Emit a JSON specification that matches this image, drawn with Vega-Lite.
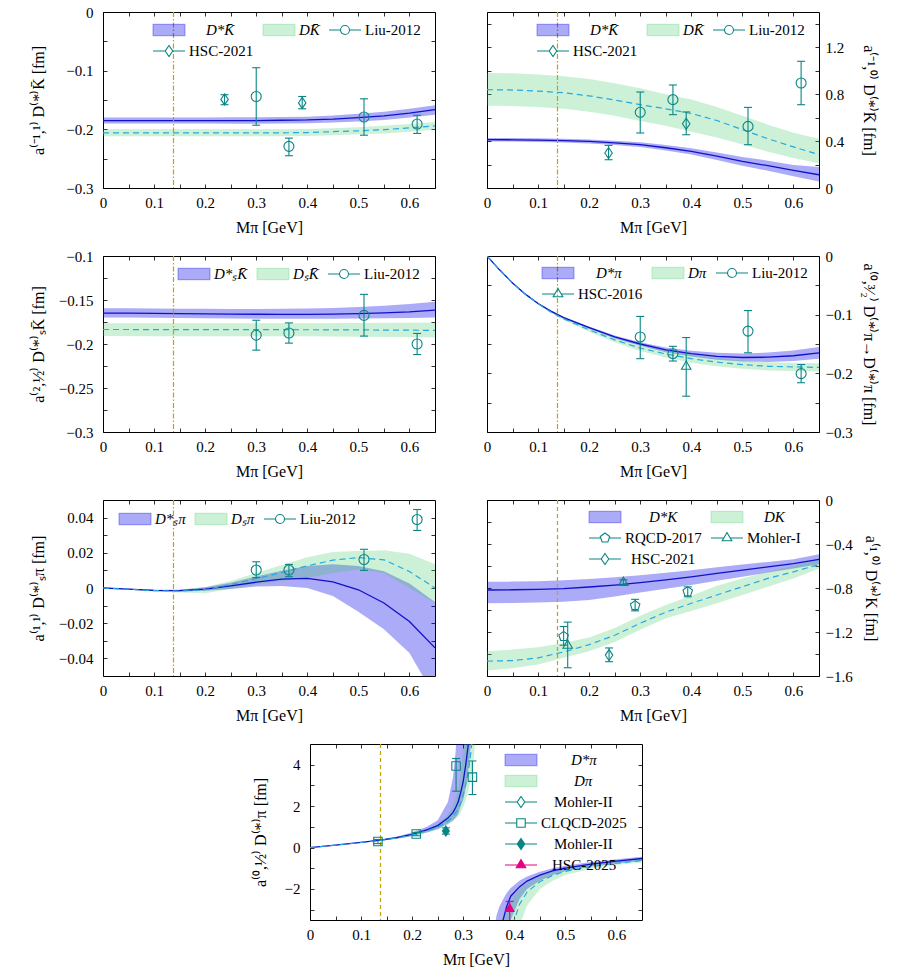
{
  "$schema": "https://vega.github.io/schema/vega-lite/v6.json",
  "usermeta": {"embedOptions": {"actions": false}},
  "padding": {"left": 29, "top": 4, "right": 5, "bottom": 5},
  "bounds": "flush",
  "columns": 2,
  "spacing": {"row": 68, "column": 52},
  "resolve": {"scale": {"color": "independent", "shape": "independent"}, "legend": {"color": "independent"}},
  "config": {
    "font": "Liberation Serif",
    "view": {"stroke": "#000", "strokeWidth": 1},
    "axis": {
      "domain": false, "grid": false, "zindex": 1,
      "tickColor": "#000", "tickSize": -4, "tickWidth": 0.8,
      "labelFont": "Liberation Serif", "labelFontSize": 15, "labelColor": "#000",
      "labelFlush": false, "labelOverlap": false, "labelBound": false,
      "titleFont": "Liberation Serif", "titleFontSize": 16, "titleFontWeight": "normal", "titleColor": "#000"
    },
    "legend": {
      "labelFont": "Liberation Serif", "labelFontSize": 15, "labelColor": "#000",
      "symbolSize": 256, "symbolStrokeWidth": 1.1, "labelOffset": 19,
      "rowPadding": 4, "columnPadding": 6, "padding": 0, "labelLimit": 300
    }
  },
  "datasets": {
    "p1": [
      {"k":"s","s":"D*K\u0304","x":0,"c":-0.185,"lo":-0.19,"hi":-0.18},
      {"k":"s","s":"D*K\u0304","x":0.05,"c":-0.185,"lo":-0.19,"hi":-0.18},
      {"k":"s","s":"D*K\u0304","x":0.1,"c":-0.185,"lo":-0.19,"hi":-0.18},
      {"k":"s","s":"D*K\u0304","x":0.15,"c":-0.185,"lo":-0.19,"hi":-0.18},
      {"k":"s","s":"D*K\u0304","x":0.2,"c":-0.185,"lo":-0.19,"hi":-0.18},
      {"k":"s","s":"D*K\u0304","x":0.25,"c":-0.185,"lo":-0.1905,"hi":-0.1795},
      {"k":"s","s":"D*K\u0304","x":0.3,"c":-0.185,"lo":-0.1905,"hi":-0.1795},
      {"k":"s","s":"D*K\u0304","x":0.35,"c":-0.1845,"lo":-0.19,"hi":-0.179},
      {"k":"s","s":"D*K\u0304","x":0.4,"c":-0.184,"lo":-0.1895,"hi":-0.1785},
      {"k":"s","s":"D*K\u0304","x":0.45,"c":-0.1825,"lo":-0.1885,"hi":-0.1765},
      {"k":"s","s":"D*K\u0304","x":0.5,"c":-0.18,"lo":-0.1865,"hi":-0.1735},
      {"k":"s","s":"D*K\u0304","x":0.55,"c":-0.177,"lo":-0.184,"hi":-0.17},
      {"k":"s","s":"D*K\u0304","x":0.6,"c":-0.1725,"lo":-0.18,"hi":-0.165},
      {"k":"s","s":"D*K\u0304","x":0.65,"c":-0.1665,"lo":-0.175,"hi":-0.159},
      {"k":"n","s":"DK\u0304","x":0,"c":-0.206,"lo":-0.212,"hi":-0.2},
      {"k":"n","s":"DK\u0304","x":0.05,"c":-0.206,"lo":-0.212,"hi":-0.2},
      {"k":"n","s":"DK\u0304","x":0.1,"c":-0.206,"lo":-0.212,"hi":-0.2},
      {"k":"n","s":"DK\u0304","x":0.15,"c":-0.206,"lo":-0.212,"hi":-0.2},
      {"k":"n","s":"DK\u0304","x":0.2,"c":-0.206,"lo":-0.212,"hi":-0.2},
      {"k":"n","s":"DK\u0304","x":0.25,"c":-0.206,"lo":-0.212,"hi":-0.2},
      {"k":"n","s":"DK\u0304","x":0.3,"c":-0.206,"lo":-0.212,"hi":-0.2},
      {"k":"n","s":"DK\u0304","x":0.35,"c":-0.206,"lo":-0.212,"hi":-0.2},
      {"k":"n","s":"DK\u0304","x":0.4,"c":-0.2055,"lo":-0.2115,"hi":-0.1995},
      {"k":"n","s":"DK\u0304","x":0.45,"c":-0.204,"lo":-0.21,"hi":-0.198},
      {"k":"n","s":"DK\u0304","x":0.5,"c":-0.2025,"lo":-0.2085,"hi":-0.1965},
      {"k":"n","s":"DK\u0304","x":0.55,"c":-0.2005,"lo":-0.207,"hi":-0.194},
      {"k":"n","s":"DK\u0304","x":0.6,"c":-0.1975,"lo":-0.204,"hi":-0.191},
      {"k":"n","s":"DK\u0304","x":0.65,"c":-0.194,"lo":-0.2005,"hi":-0.1875},
      {"s":"Liu-2012","x":0.3,"y":-0.144,"lo":-0.193,"hi":-0.095},
      {"s":"Liu-2012","x":0.364,"y":-0.229,"lo":-0.245,"hi":-0.215},
      {"s":"Liu-2012","x":0.511,"y":-0.179,"lo":-0.21,"hi":-0.148},
      {"s":"Liu-2012","x":0.615,"y":-0.191,"lo":-0.207,"hi":-0.176},
      {"s":"HSC-2021","x":0.238,"y":-0.149,"lo":-0.158,"hi":-0.141},
      {"s":"HSC-2021","x":0.39,"y":-0.155,"lo":-0.165,"hi":-0.144}
    ],
    "p2": [
      {"k":"s","s":"D*K\u0304","x":0,"c":0.412,"lo":0.397,"hi":0.427},
      {"k":"s","s":"D*K\u0304","x":0.05,"c":0.411,"lo":0.396,"hi":0.426},
      {"k":"s","s":"D*K\u0304","x":0.1,"c":0.408,"lo":0.393,"hi":0.423},
      {"k":"s","s":"D*K\u0304","x":0.15,"c":0.403,"lo":0.387,"hi":0.419},
      {"k":"s","s":"D*K\u0304","x":0.2,"c":0.397,"lo":0.38,"hi":0.414},
      {"k":"s","s":"D*K\u0304","x":0.25,"c":0.385,"lo":0.367,"hi":0.403},
      {"k":"s","s":"D*K\u0304","x":0.3,"c":0.369,"lo":0.349,"hi":0.389},
      {"k":"s","s":"D*K\u0304","x":0.35,"c":0.343,"lo":0.32,"hi":0.366},
      {"k":"s","s":"D*K\u0304","x":0.4,"c":0.312,"lo":0.285,"hi":0.339},
      {"k":"s","s":"D*K\u0304","x":0.45,"c":0.271,"lo":0.239,"hi":0.303},
      {"k":"s","s":"D*K\u0304","x":0.5,"c":0.227,"lo":0.19,"hi":0.264},
      {"k":"s","s":"D*K\u0304","x":0.55,"c":0.19,"lo":0.147,"hi":0.233},
      {"k":"s","s":"D*K\u0304","x":0.6,"c":0.151,"lo":0.101,"hi":0.195},
      {"k":"s","s":"D*K\u0304","x":0.65,"c":0.113,"lo":0.056,"hi":0.178},
      {"k":"n","s":"DK\u0304","x":0,"c":0.838,"lo":0.7,"hi":0.98},
      {"k":"n","s":"DK\u0304","x":0.05,"c":0.835,"lo":0.698,"hi":0.977},
      {"k":"n","s":"DK\u0304","x":0.1,"c":0.826,"lo":0.69,"hi":0.968},
      {"k":"n","s":"DK\u0304","x":0.15,"c":0.812,"lo":0.675,"hi":0.953},
      {"k":"n","s":"DK\u0304","x":0.2,"c":0.785,"lo":0.65,"hi":0.928},
      {"k":"n","s":"DK\u0304","x":0.25,"c":0.75,"lo":0.615,"hi":0.893},
      {"k":"n","s":"DK\u0304","x":0.3,"c":0.71,"lo":0.57,"hi":0.85},
      {"k":"n","s":"DK\u0304","x":0.35,"c":0.675,"lo":0.53,"hi":0.8},
      {"k":"n","s":"DK\u0304","x":0.4,"c":0.635,"lo":0.48,"hi":0.755},
      {"k":"n","s":"DK\u0304","x":0.45,"c":0.575,"lo":0.43,"hi":0.69},
      {"k":"n","s":"DK\u0304","x":0.5,"c":0.497,"lo":0.37,"hi":0.615},
      {"k":"n","s":"DK\u0304","x":0.55,"c":0.42,"lo":0.31,"hi":0.54},
      {"k":"n","s":"DK\u0304","x":0.6,"c":0.35,"lo":0.255,"hi":0.47},
      {"k":"n","s":"DK\u0304","x":0.65,"c":0.284,"lo":0.21,"hi":0.42},
      {"s":"Liu-2012","x":0.3,"y":0.645,"lo":0.469,"hi":0.818},
      {"s":"Liu-2012","x":0.364,"y":0.753,"lo":0.625,"hi":0.878},
      {"s":"Liu-2012","x":0.511,"y":0.525,"lo":0.369,"hi":0.687},
      {"s":"Liu-2012","x":0.615,"y":0.895,"lo":0.71,"hi":1.08},
      {"s":"HSC-2021","x":0.238,"y":0.298,"lo":0.241,"hi":0.363},
      {"s":"HSC-2021","x":0.39,"y":0.548,"lo":0.454,"hi":0.648}
    ],
    "p3": [
      {"k":"s","s":"D*\u209bK\u0304","x":0,"c":-0.165,"lo":-0.17,"hi":-0.1595},
      {"k":"s","s":"D*\u209bK\u0304","x":0.05,"c":-0.165,"lo":-0.17,"hi":-0.1595},
      {"k":"s","s":"D*\u209bK\u0304","x":0.1,"c":-0.1652,"lo":-0.1703,"hi":-0.1597},
      {"k":"s","s":"D*\u209bK\u0304","x":0.15,"c":-0.1655,"lo":-0.1705,"hi":-0.16},
      {"k":"s","s":"D*\u209bK\u0304","x":0.2,"c":-0.1658,"lo":-0.1708,"hi":-0.16},
      {"k":"s","s":"D*\u209bK\u0304","x":0.25,"c":-0.166,"lo":-0.171,"hi":-0.1602},
      {"k":"s","s":"D*\u209bK\u0304","x":0.3,"c":-0.1662,"lo":-0.1712,"hi":-0.1602},
      {"k":"s","s":"D*\u209bK\u0304","x":0.35,"c":-0.1663,"lo":-0.1713,"hi":-0.16},
      {"k":"s","s":"D*\u209bK\u0304","x":0.4,"c":-0.1663,"lo":-0.1713,"hi":-0.1597},
      {"k":"s","s":"D*\u209bK\u0304","x":0.45,"c":-0.166,"lo":-0.1712,"hi":-0.159},
      {"k":"s","s":"D*\u209bK\u0304","x":0.5,"c":-0.1655,"lo":-0.171,"hi":-0.158},
      {"k":"s","s":"D*\u209bK\u0304","x":0.55,"c":-0.1647,"lo":-0.1708,"hi":-0.1565},
      {"k":"s","s":"D*\u209bK\u0304","x":0.6,"c":-0.1635,"lo":-0.1705,"hi":-0.1545},
      {"k":"s","s":"D*\u209bK\u0304","x":0.65,"c":-0.1615,"lo":-0.17,"hi":-0.152},
      {"k":"n","s":"D\u209bK\u0304","x":0,"c":-0.1835,"lo":-0.191,"hi":-0.1765},
      {"k":"n","s":"D\u209bK\u0304","x":0.1,"c":-0.1836,"lo":-0.1911,"hi":-0.1765},
      {"k":"n","s":"D\u209bK\u0304","x":0.2,"c":-0.1837,"lo":-0.1912,"hi":-0.1765},
      {"k":"n","s":"D\u209bK\u0304","x":0.3,"c":-0.1837,"lo":-0.1912,"hi":-0.1765},
      {"k":"n","s":"D\u209bK\u0304","x":0.4,"c":-0.1838,"lo":-0.1913,"hi":-0.1765},
      {"k":"n","s":"D\u209bK\u0304","x":0.5,"c":-0.184,"lo":-0.1917,"hi":-0.1762},
      {"k":"n","s":"D\u209bK\u0304","x":0.6,"c":-0.1843,"lo":-0.192,"hi":-0.1758},
      {"k":"n","s":"D\u209bK\u0304","x":0.65,"c":-0.1845,"lo":-0.1925,"hi":-0.1755},
      {"s":"Liu-2012","x":0.3,"y":-0.19,"lo":-0.207,"hi":-0.173},
      {"s":"Liu-2012","x":0.364,"y":-0.1875,"lo":-0.199,"hi":-0.176},
      {"s":"Liu-2012","x":0.511,"y":-0.1675,"lo":-0.191,"hi":-0.1436},
      {"s":"Liu-2012","x":0.615,"y":-0.2,"lo":-0.212,"hi":-0.188}
    ],
    "p4": [
      {"k":"s","s":"D*π","x":0,"c":0,"lo":0,"hi":0},
      {"k":"s","s":"D*π","x":0.025,"c":-0.024,"lo":-0.0243,"hi":-0.0237},
      {"k":"s","s":"D*π","x":0.05,"c":-0.046,"lo":-0.0465,"hi":-0.0455},
      {"k":"s","s":"D*π","x":0.075,"c":-0.065,"lo":-0.0658,"hi":-0.0642},
      {"k":"s","s":"D*π","x":0.1,"c":-0.081,"lo":-0.082,"hi":-0.08},
      {"k":"s","s":"D*π","x":0.125,"c":-0.094,"lo":-0.0952,"hi":-0.0928},
      {"k":"s","s":"D*π","x":0.15,"c":-0.105,"lo":-0.1065,"hi":-0.1035},
      {"k":"s","s":"D*π","x":0.2,"c":-0.122,"lo":-0.124,"hi":-0.12},
      {"k":"s","s":"D*π","x":0.25,"c":-0.138,"lo":-0.1405,"hi":-0.1355},
      {"k":"s","s":"D*π","x":0.3,"c":-0.15,"lo":-0.153,"hi":-0.147},
      {"k":"s","s":"D*π","x":0.35,"c":-0.16,"lo":-0.164,"hi":-0.156},
      {"k":"s","s":"D*π","x":0.4,"c":-0.1665,"lo":-0.1715,"hi":-0.1615},
      {"k":"s","s":"D*π","x":0.45,"c":-0.171,"lo":-0.177,"hi":-0.165},
      {"k":"s","s":"D*π","x":0.5,"c":-0.173,"lo":-0.18,"hi":-0.166},
      {"k":"s","s":"D*π","x":0.55,"c":-0.1725,"lo":-0.1805,"hi":-0.1645},
      {"k":"s","s":"D*π","x":0.6,"c":-0.17,"lo":-0.179,"hi":-0.161},
      {"k":"s","s":"D*π","x":0.65,"c":-0.165,"lo":-0.175,"hi":-0.155},
      {"k":"n","s":"Dπ","x":0,"c":0,"lo":0,"hi":0},
      {"k":"n","s":"Dπ","x":0.025,"c":-0.024,"lo":-0.0243,"hi":-0.0237},
      {"k":"n","s":"Dπ","x":0.05,"c":-0.046,"lo":-0.0465,"hi":-0.0455},
      {"k":"n","s":"Dπ","x":0.075,"c":-0.065,"lo":-0.0658,"hi":-0.0642},
      {"k":"n","s":"Dπ","x":0.1,"c":-0.0815,"lo":-0.0825,"hi":-0.0805},
      {"k":"n","s":"Dπ","x":0.125,"c":-0.0955,"lo":-0.097,"hi":-0.094},
      {"k":"n","s":"Dπ","x":0.15,"c":-0.107,"lo":-0.109,"hi":-0.105},
      {"k":"n","s":"Dπ","x":0.2,"c":-0.126,"lo":-0.129,"hi":-0.123},
      {"k":"n","s":"Dπ","x":0.25,"c":-0.143,"lo":-0.147,"hi":-0.139},
      {"k":"n","s":"Dπ","x":0.3,"c":-0.157,"lo":-0.162,"hi":-0.152},
      {"k":"n","s":"Dπ","x":0.35,"c":-0.167,"lo":-0.173,"hi":-0.161},
      {"k":"n","s":"Dπ","x":0.4,"c":-0.175,"lo":-0.182,"hi":-0.168},
      {"k":"n","s":"Dπ","x":0.45,"c":-0.181,"lo":-0.188,"hi":-0.174},
      {"k":"n","s":"Dπ","x":0.5,"c":-0.185,"lo":-0.192,"hi":-0.178},
      {"k":"n","s":"Dπ","x":0.55,"c":-0.188,"lo":-0.195,"hi":-0.181},
      {"k":"n","s":"Dπ","x":0.6,"c":-0.189,"lo":-0.196,"hi":-0.182},
      {"k":"n","s":"Dπ","x":0.65,"c":-0.19,"lo":-0.197,"hi":-0.183},
      {"s":"Liu-2012","x":0.3,"y":-0.138,"lo":-0.175,"hi":-0.103},
      {"s":"Liu-2012","x":0.364,"y":-0.1665,"lo":-0.179,"hi":-0.154},
      {"s":"Liu-2012","x":0.511,"y":-0.128,"lo":-0.165,"hi":-0.093},
      {"s":"Liu-2012","x":0.615,"y":-0.2005,"lo":-0.216,"hi":-0.185},
      {"s":"HSC-2016","x":0.39,"y":-0.188,"lo":-0.239,"hi":-0.139}
    ],
    "p5": [
      {"k":"s","s":"D*\u209bπ","x":0,"c":0,"lo":0,"hi":0},
      {"k":"s","s":"D*\u209bπ","x":0.05,"c":-0.0006,"lo":-0.0008,"hi":-0.0004},
      {"k":"s","s":"D*\u209bπ","x":0.1,"c":-0.0014,"lo":-0.0018,"hi":-0.001},
      {"k":"s","s":"D*\u209bπ","x":0.15,"c":-0.0015,"lo":-0.002,"hi":-0.001},
      {"k":"s","s":"D*\u209bπ","x":0.2,"c":-0.0006,"lo":-0.0015,"hi":0.0004},
      {"k":"s","s":"D*\u209bπ","x":0.25,"c":0.0012,"lo":-0.0005,"hi":0.003},
      {"k":"s","s":"D*\u209bπ","x":0.3,"c":0.0033,"lo":0.0008,"hi":0.0065},
      {"k":"s","s":"D*\u209bπ","x":0.35,"c":0.005,"lo":0.0012,"hi":0.0098},
      {"k":"s","s":"D*\u209bπ","x":0.4,"c":0.0055,"lo":0,"hi":0.0125},
      {"k":"s","s":"D*\u209bπ","x":0.45,"c":0.0035,"lo":-0.0045,"hi":0.0135},
      {"k":"s","s":"D*\u209bπ","x":0.5,"c":-0.001,"lo":-0.0135,"hi":0.0125},
      {"k":"s","s":"D*\u209bπ","x":0.55,"c":-0.0085,"lo":-0.0235,"hi":0.0095},
      {"k":"s","s":"D*\u209bπ","x":0.6,"c":-0.019,"lo":-0.037,"hi":0.0025},
      {"k":"s","s":"D*\u209bπ","x":0.65,"c":-0.034,"lo":-0.062,"hi":-0.008},
      {"k":"n","s":"D\u209bπ","x":0,"c":0,"lo":0,"hi":0},
      {"k":"n","s":"D\u209bπ","x":0.05,"c":-0.0007,"lo":-0.001,"hi":-0.0004},
      {"k":"n","s":"D\u209bπ","x":0.1,"c":-0.0015,"lo":-0.002,"hi":-0.001},
      {"k":"n","s":"D\u209bπ","x":0.15,"c":-0.0017,"lo":-0.0025,"hi":-0.001},
      {"k":"n","s":"D\u209bπ","x":0.2,"c":-0.001,"lo":-0.003,"hi":0.0005},
      {"k":"n","s":"D\u209bπ","x":0.25,"c":0.002,"lo":-0.0005,"hi":0.004},
      {"k":"n","s":"D\u209bπ","x":0.3,"c":0.0053,"lo":0.002,"hi":0.0085},
      {"k":"n","s":"D\u209bπ","x":0.35,"c":0.0088,"lo":0.004,"hi":0.013},
      {"k":"n","s":"D\u209bπ","x":0.4,"c":0.0126,"lo":0.006,"hi":0.0175},
      {"k":"n","s":"D\u209bπ","x":0.45,"c":0.0158,"lo":0.0085,"hi":0.0205},
      {"k":"n","s":"D\u209bπ","x":0.5,"c":0.0173,"lo":0.0105,"hi":0.021},
      {"k":"n","s":"D\u209bπ","x":0.55,"c":0.016,"lo":0.0085,"hi":0.0215},
      {"k":"n","s":"D\u209bπ","x":0.6,"c":0.0094,"lo":0,"hi":0.0195},
      {"k":"n","s":"D\u209bπ","x":0.65,"c":0,"lo":-0.0085,"hi":0.0135},
      {"s":"Liu-2012","x":0.3,"y":0.0102,"lo":0.0059,"hi":0.0149},
      {"s":"Liu-2012","x":0.364,"y":0.0102,"lo":0.0064,"hi":0.0134},
      {"s":"Liu-2012","x":0.511,"y":0.0162,"lo":0.01,"hi":0.022},
      {"s":"Liu-2012","x":0.615,"y":0.0389,"lo":0.0327,"hi":0.0446}
    ],
    "p6": [
      {"k":"s","s":"D*K","x":0,"c":-0.818,"lo":-0.939,"hi":-0.743},
      {"k":"s","s":"D*K","x":0.05,"c":-0.816,"lo":-0.937,"hi":-0.742},
      {"k":"s","s":"D*K","x":0.1,"c":-0.812,"lo":-0.932,"hi":-0.738},
      {"k":"s","s":"D*K","x":0.15,"c":-0.805,"lo":-0.924,"hi":-0.73},
      {"k":"s","s":"D*K","x":0.2,"c":-0.791,"lo":-0.909,"hi":-0.719},
      {"k":"s","s":"D*K","x":0.25,"c":-0.773,"lo":-0.878,"hi":-0.702},
      {"k":"s","s":"D*K","x":0.3,"c":-0.752,"lo":-0.84,"hi":-0.683},
      {"k":"s","s":"D*K","x":0.35,"c":-0.727,"lo":-0.806,"hi":-0.661},
      {"k":"s","s":"D*K","x":0.4,"c":-0.698,"lo":-0.773,"hi":-0.638},
      {"k":"s","s":"D*K","x":0.45,"c":-0.668,"lo":-0.735,"hi":-0.612},
      {"k":"s","s":"D*K","x":0.5,"c":-0.638,"lo":-0.698,"hi":-0.587},
      {"k":"s","s":"D*K","x":0.55,"c":-0.608,"lo":-0.66,"hi":-0.563},
      {"k":"s","s":"D*K","x":0.6,"c":-0.578,"lo":-0.623,"hi":-0.539},
      {"k":"s","s":"D*K","x":0.65,"c":-0.539,"lo":-0.584,"hi":-0.494},
      {"k":"n","s":"DK","x":0,"c":-1.465,"lo":-1.55,"hi":-1.375},
      {"k":"n","s":"DK","x":0.05,"c":-1.46,"lo":-1.53,"hi":-1.36},
      {"k":"n","s":"DK","x":0.1,"c":-1.435,"lo":-1.495,"hi":-1.339},
      {"k":"n","s":"DK","x":0.15,"c":-1.381,"lo":-1.435,"hi":-1.3},
      {"k":"n","s":"DK","x":0.2,"c":-1.315,"lo":-1.375,"hi":-1.249},
      {"k":"n","s":"DK","x":0.25,"c":-1.23,"lo":-1.29,"hi":-1.164},
      {"k":"n","s":"DK","x":0.3,"c":-1.12,"lo":-1.18,"hi":-1.053},
      {"k":"n","s":"DK","x":0.35,"c":-1.02,"lo":-1.074,"hi":-0.954},
      {"k":"n","s":"DK","x":0.4,"c":-0.939,"lo":-1.008,"hi":-0.87},
      {"k":"n","s":"DK","x":0.45,"c":-0.864,"lo":-0.939,"hi":-0.779},
      {"k":"n","s":"DK","x":0.5,"c":-0.788,"lo":-0.864,"hi":-0.713},
      {"k":"n","s":"DK","x":0.55,"c":-0.713,"lo":-0.788,"hi":-0.653},
      {"k":"n","s":"DK","x":0.6,"c":-0.653,"lo":-0.713,"hi":-0.599},
      {"k":"n","s":"DK","x":0.65,"c":-0.587,"lo":-0.623,"hi":-0.532},
      {"s":"RQCD-2017","x":0.15,"y":-1.24,"lo":-1.32,"hi":-1.15},
      {"s":"RQCD-2017","x":0.29,"y":-0.96,"lo":-1.008,"hi":-0.903},
      {"s":"RQCD-2017","x":0.393,"y":-0.833,"lo":-0.88,"hi":-0.79},
      {"s":"Mohler-I","x":0.158,"y":-1.32,"lo":-1.525,"hi":-1.11},
      {"s":"Mohler-I","x":0.267,"y":-0.749,"lo":-0.77,"hi":-0.725},
      {"s":"HSC-2021","x":0.239,"y":-1.41,"lo":-1.47,"hi":-1.345}
    ],
    "p7": [
      {"k":"s","s":"D*π","b":1,"x":0,"c":0,"lo":0,"hi":0},
      {"k":"s","s":"D*π","b":1,"x":0.05,"c":0.12,"lo":0.115,"hi":0.125},
      {"k":"s","s":"D*π","b":1,"x":0.1,"c":0.25,"lo":0.235,"hi":0.265},
      {"k":"s","s":"D*π","b":1,"x":0.138,"c":0.36,"lo":0.33,"hi":0.39},
      {"k":"s","s":"D*π","b":1,"x":0.17,"c":0.48,"lo":0.43,"hi":0.53},
      {"k":"s","s":"D*π","b":1,"x":0.2,"c":0.64,"lo":0.56,"hi":0.73},
      {"k":"s","s":"D*π","b":1,"x":0.23,"c":0.86,"lo":0.74,"hi":1.02},
      {"k":"s","s":"D*π","b":1,"x":0.25,"c":1.06,"lo":0.9,"hi":1.32},
      {"k":"s","s":"D*π","b":1,"x":0.27,"c":1.42,"lo":1.15,"hi":2.2},
      {"k":"s","s":"D*π","b":1,"x":0.28,"c":1.7,"lo":1.32,"hi":3.4},
      {"k":"s","s":"D*π","b":1,"x":0.285,"c":1.92,"lo":1.45,"hi":4.6},
      {"k":"s","s":"D*π","b":1,"x":0.29,"c":2.2,"lo":1.6,"hi":6.5},
      {"k":"s","s":"D*π","b":1,"x":0.295,"c":2.65,"lo":2,"hi":9},
      {"k":"s","s":"D*π","b":1,"x":0.3,"c":3.2,"lo":2.3,"hi":12},
      {"k":"s","s":"D*π","b":1,"x":0.305,"c":4,"lo":2.9,"hi":15},
      {"k":"s","s":"D*π","b":1,"x":0.31,"c":5,"lo":3.7,"hi":18},
      {"k":"s","s":"D*π","b":1,"x":0.315,"c":6.5,"lo":5,"hi":22},
      {"k":"s","s":"D*π","b":1,"x":0.32,"c":8.5,"lo":6.5,"hi":26},
      {"k":"s","s":"D*π","b":2,"x":0.36,"c":-7,"lo":-12,"hi":-4.2},
      {"k":"s","s":"D*π","b":2,"x":0.365,"c":-5.5,"lo":-10,"hi":-3.3},
      {"k":"s","s":"D*π","b":2,"x":0.37,"c":-4.6,"lo":-8,"hi":-2.9},
      {"k":"s","s":"D*π","b":2,"x":0.377,"c":-3.6,"lo":-6,"hi":-2.55},
      {"k":"s","s":"D*π","b":2,"x":0.385,"c":-2.85,"lo":-4.6,"hi":-2.2},
      {"k":"s","s":"D*π","b":2,"x":0.393,"c":-2.35,"lo":-3.5,"hi":-1.95},
      {"k":"s","s":"D*π","b":2,"x":0.41,"c":-1.9,"lo":-2.5,"hi":-1.6},
      {"k":"s","s":"D*π","b":2,"x":0.425,"c":-1.62,"lo":-2,"hi":-1.4},
      {"k":"s","s":"D*π","b":2,"x":0.45,"c":-1.33,"lo":-1.6,"hi":-1.17},
      {"k":"s","s":"D*π","b":2,"x":0.475,"c":-1.13,"lo":-1.33,"hi":-1},
      {"k":"s","s":"D*π","b":2,"x":0.5,"c":-0.99,"lo":-1.15,"hi":-0.88},
      {"k":"s","s":"D*π","b":2,"x":0.55,"c":-0.8,"lo":-0.92,"hi":-0.7},
      {"k":"s","s":"D*π","b":2,"x":0.6,"c":-0.66,"lo":-0.77,"hi":-0.57},
      {"k":"s","s":"D*π","b":2,"x":0.65,"c":-0.53,"lo":-0.64,"hi":-0.44},
      {"k":"n","s":"Dπ","b":1,"x":0,"c":0,"lo":0,"hi":0},
      {"k":"n","s":"Dπ","b":1,"x":0.05,"c":0.12,"lo":0.112,"hi":0.128},
      {"k":"n","s":"Dπ","b":1,"x":0.1,"c":0.245,"lo":0.23,"hi":0.26},
      {"k":"n","s":"Dπ","b":1,"x":0.138,"c":0.35,"lo":0.32,"hi":0.38},
      {"k":"n","s":"Dπ","b":1,"x":0.17,"c":0.46,"lo":0.42,"hi":0.5},
      {"k":"n","s":"Dπ","b":1,"x":0.2,"c":0.61,"lo":0.55,"hi":0.68},
      {"k":"n","s":"Dπ","b":1,"x":0.23,"c":0.81,"lo":0.72,"hi":0.92},
      {"k":"n","s":"Dπ","b":1,"x":0.25,"c":0.98,"lo":0.86,"hi":1.14},
      {"k":"n","s":"Dπ","b":1,"x":0.27,"c":1.28,"lo":1.1,"hi":1.6},
      {"k":"n","s":"Dπ","b":1,"x":0.28,"c":1.5,"lo":1.27,"hi":2},
      {"k":"n","s":"Dπ","b":1,"x":0.29,"c":1.85,"lo":1.5,"hi":2.8},
      {"k":"n","s":"Dπ","b":1,"x":0.295,"c":2.15,"lo":1.7,"hi":3.5},
      {"k":"n","s":"Dπ","b":1,"x":0.3,"c":2.55,"lo":1.95,"hi":4.6},
      {"k":"n","s":"Dπ","b":1,"x":0.305,"c":3.05,"lo":2.3,"hi":6},
      {"k":"n","s":"Dπ","b":1,"x":0.31,"c":3.7,"lo":2.75,"hi":8},
      {"k":"n","s":"Dπ","b":1,"x":0.315,"c":4.6,"lo":3.3,"hi":11},
      {"k":"n","s":"Dπ","b":1,"x":0.32,"c":6,"lo":4.2,"hi":15},
      {"k":"n","s":"Dπ","b":1,"x":0.325,"c":8,"lo":5.4,"hi":20},
      {"k":"n","s":"Dπ","b":1,"x":0.33,"c":11,"lo":7,"hi":25},
      {"k":"n","s":"Dπ","b":2,"x":0.375,"c":-9,"lo":-14,"hi":-4.5},
      {"k":"n","s":"Dπ","b":2,"x":0.38,"c":-6.8,"lo":-12,"hi":-3.6},
      {"k":"n","s":"Dπ","b":2,"x":0.385,"c":-5.4,"lo":-9,"hi":-3.1},
      {"k":"n","s":"Dπ","b":2,"x":0.393,"c":-4.3,"lo":-6.5,"hi":-2.6},
      {"k":"n","s":"Dπ","b":2,"x":0.4,"c":-3.5,"lo":-5,"hi":-2.3},
      {"k":"n","s":"Dπ","b":2,"x":0.41,"c":-2.75,"lo":-3.8,"hi":-2},
      {"k":"n","s":"Dπ","b":2,"x":0.425,"c":-2.15,"lo":-2.8,"hi":-1.7},
      {"k":"n","s":"Dπ","b":2,"x":0.45,"c":-1.65,"lo":-2,"hi":-1.38},
      {"k":"n","s":"Dπ","b":2,"x":0.475,"c":-1.35,"lo":-1.6,"hi":-1.16},
      {"k":"n","s":"Dπ","b":2,"x":0.5,"c":-1.15,"lo":-1.33,"hi":-1},
      {"k":"n","s":"Dπ","b":2,"x":0.55,"c":-0.92,"lo":-1.03,"hi":-0.8},
      {"k":"n","s":"Dπ","b":2,"x":0.6,"c":-0.76,"lo":-0.84,"hi":-0.66},
      {"k":"n","s":"Dπ","b":2,"x":0.65,"c":-0.63,"lo":-0.72,"hi":-0.54},
      {"s":"CLQCD-2025","x":0.133,"y":0.29,"lo":0.19,"hi":0.39},
      {"s":"CLQCD-2025","x":0.208,"y":0.65,"lo":0.57,"hi":0.73},
      {"s":"CLQCD-2025","x":0.286,"y":3.94,"lo":2.72,"hi":4.3},
      {"s":"CLQCD-2025","x":0.318,"y":3.4,"lo":2.56,"hi":4.18},
      {"s":"Mohler-II (2)","x":0.266,"y":0.8,"lo":0.65,"hi":0.95},
      {"s":"HSC-2025","x":0.391,"y":-2.95,"lo":-3.6,"hi":-2.6}
    ]
  },
  "concat": [
    {
      "width": 332, "height": 176,
      "data": {"name": "p1"},
      "encoding": {
        "x": {"field": "x", "type": "quantitative", "scale": {"domain": [0, 0.65], "nice": false, "zero": false}, "axis": null},
        "color": {"field": "s", "type": "nominal", "scale": {"domain": ["D*K\u0304", "DK\u0304", "Liu-2012", "HSC-2021"], "range": ["rgba(0,0,230,0.33)", "rgba(50,200,90,0.25)", "#0a8585", "#0a8585"]}, "legend": null}
      },
      "layer": [
        {
          "transform": [{"filter": "isValid(datum.c)"}],
          "mark": {"type": "area", "clip": true},
          "encoding": {
            "x": {"field": "x", "type": "quantitative", "scale": {"domain": [0, 0.65], "nice": false, "zero": false},
              "axis": {"orient": "bottom", "values": [0,0.05,0.1,0.15,0.2,0.25,0.3,0.35,0.4,0.45,0.5,0.55,0.6], "labelExpr": "abs(datum.value*10-round(datum.value*10))<0.001 ? format(datum.value,'~g') : ''", "labelPadding": 11, "title": "Mπ  [GeV]", "titlePadding": 9}},
            "y": {"field": "lo", "type": "quantitative", "scale": {"domain": [-0.3, 0], "nice": false, "zero": false},
              "axis": {"orient": "left", "values": [-0.3,-0.25,-0.2,-0.15,-0.1,-0.05,0], "labelExpr": "abs(datum.value*10-round(datum.value*10))<0.001 ? format(datum.value,'~g') : ''", "labelPadding": 14, "title": "a⁽⁻¹,¹⁾ D⁽*⁾K\u0304  [fm]", "titleX": -65, "titleY": 88, "titleAngle": -90, "titleAlign": "center", "titleBaseline": "middle"}},
            "y2": {"field": "hi"},
            "color": {"field": "s", "type": "nominal",
              "scale": {"domain": ["D*K\u0304", "DK\u0304", "Liu-2012", "HSC-2021"], "range": ["rgba(0,0,230,0.33)", "rgba(50,200,90,0.25)", "#0a8585", "#0a8585"]},
              "legend": {"orient": "none", "legendX": 49, "legendY": 9, "columns": 3, "direction": "horizontal", "title": null,
                "encode": {
                  "symbols": {"update": {
                    "shape": {"signal": "['M-1,-0.7H3V0.7H-1Z','M-1,-0.7H3V0.7H-1Z','M-1,0H0.44M1.56,0H3M1.56,0A0.56,0.56 0 1 1 0.44,0A0.56,0.56 0 1 1 1.56,0','M-1,0H0.53M1.47,0H3M1,-0.69L1.47,0L1,0.69L0.53,0Z'][datum.index]"},
                    "fillOpacity": {"signal": "[1,1,0,0][datum.index]"},
                    "stroke": {"signal": "['transparent','transparent','#0a8585','#0a8585'][datum.index]"}
                  }},
                  "labels": {"update": {
                    "dx": {"signal": "[17,0,0,0][datum.index]"},
                    "fontStyle": {"signal": "datum.index < 2 ? 'italic' : 'normal'"}
                  }}
                }}}
          }
        },
        {
          "transform": [{"filter": "datum.k == 's'"}],
          "mark": {"type": "line", "clip": true, "strokeWidth": 1.3},
          "encoding": {
            "x": {"field": "x", "type": "quantitative", "scale": {"domain": [0, 0.65], "nice": false, "zero": false},
              "axis": {"orient": "top", "values": [0,0.05,0.1,0.15,0.2,0.25,0.3,0.35,0.4,0.45,0.5,0.55,0.6], "labels": false, "title": null}},
            "y": {"field": "c", "type": "quantitative", "scale": {"domain": [-0.3, 0], "nice": false, "zero": false},
              "axis": {"orient": "right", "values": [-0.3,-0.25,-0.2,-0.15,-0.1,-0.05,0], "labels": false, "title": null}},
            "color": {"value": "#1010cc"}
          }
        },
        {
          "transform": [{"filter": "datum.k == 'n'"}],
          "mark": {"type": "line", "clip": true, "strokeWidth": 1.2, "strokeDash": [6, 4]},
          "encoding": {"y": {"field": "c", "type": "quantitative", "axis": null}, "color": {"value": "#26a9e0"}}
        },
        {
          "data": {"values": [{"x": 0.138}]},
          "mark": {"type": "rule", "strokeWidth": 1.2, "strokeDash": [5, 2, 1.5, 2]},
          "encoding": {"color": {"value": "#c2a30a"}}
        },
        {
          "transform": [{"filter": "isValid(datum.y)"}],
          "mark": {"type": "rule", "strokeWidth": 1.1},
          "encoding": {"y": {"field": "lo", "type": "quantitative", "axis": null}, "y2": {"field": "hi"}}
        },
        {
          "transform": [{"filter": "isValid(datum.y)"}],
          "mark": {"type": "tick", "orient": "horizontal", "size": 8, "thickness": 1.1, "opacity": 1},
          "encoding": {"y": {"field": "lo", "type": "quantitative", "axis": null}}
        },
        {
          "transform": [{"filter": "isValid(datum.y)"}],
          "mark": {"type": "tick", "orient": "horizontal", "size": 8, "thickness": 1.1, "opacity": 1},
          "encoding": {"y": {"field": "hi", "type": "quantitative", "axis": null}}
        },
        {
          "transform": [{"filter": "isValid(datum.y)"}],
          "mark": {"type": "point", "filled": false, "size": 100, "strokeWidth": 1.1, "opacity": 1},
          "encoding": {
            "y": {"field": "y", "type": "quantitative", "axis": null},
            "shape": {"field": "s", "type": "nominal", "scale": {"domain": ["Liu-2012", "HSC-2021"], "range": ["circle", "M0,-1.1L0.75,0L0,1.1L-0.75,0Z"]}, "legend": null}
          }
        }
      ],
      "resolve": {"axis": {"x": "independent", "y": "independent"}}
    },
    {
      "width": 332, "height": 176,
      "data": {"name": "p2"},
      "encoding": {
        "x": {"field": "x", "type": "quantitative", "scale": {"domain": [0, 0.65], "nice": false, "zero": false}, "axis": null},
        "color": {"field": "s", "type": "nominal", "scale": {"domain": ["D*K\u0304", "DK\u0304", "Liu-2012", "HSC-2021"], "range": ["rgba(0,0,230,0.33)", "rgba(50,200,90,0.25)", "#0a8585", "#0a8585"]}, "legend": null}
      },
      "layer": [
        {
          "transform": [{"filter": "isValid(datum.c)"}],
          "mark": {"type": "area", "clip": true},
          "encoding": {
            "x": {"field": "x", "type": "quantitative", "scale": {"domain": [0, 0.65], "nice": false, "zero": false},
              "axis": {"orient": "bottom", "values": [0,0.05,0.1,0.15,0.2,0.25,0.3,0.35,0.4,0.45,0.5,0.55,0.6], "labelExpr": "abs(datum.value*10-round(datum.value*10))<0.001 ? format(datum.value,'~g') : ''", "labelPadding": 11, "title": "Mπ  [GeV]", "titlePadding": 9}},
            "y": {"field": "lo", "type": "quantitative", "scale": {"domain": [0, 1.5], "nice": false, "zero": false},
              "axis": {"orient": "right", "values": [0,0.2,0.4,0.6,0.8,1,1.2,1.4], "labelExpr": "abs(datum.value/0.4-round(datum.value/0.4))<0.001 ? format(datum.value,'~g') : ''", "labelPadding": 10, "title": "a⁽⁻¹,⁰⁾ D⁽*⁾K\u0304  [fm]", "titleX": 49, "titleY": 88, "titleAngle": 90, "titleAlign": "center", "titleBaseline": "middle"}},
            "y2": {"field": "hi"},
            "color": {"field": "s", "type": "nominal",
              "scale": {"domain": ["D*K\u0304", "DK\u0304", "Liu-2012", "HSC-2021"], "range": ["rgba(0,0,230,0.33)", "rgba(50,200,90,0.25)", "#0a8585", "#0a8585"]},
              "legend": {"orient": "none", "legendX": 49, "legendY": 9, "columns": 3, "direction": "horizontal", "title": null,
                "encode": {
                  "symbols": {"update": {
                    "shape": {"signal": "['M-1,-0.7H3V0.7H-1Z','M-1,-0.7H3V0.7H-1Z','M-1,0H0.44M1.56,0H3M1.56,0A0.56,0.56 0 1 1 0.44,0A0.56,0.56 0 1 1 1.56,0','M-1,0H0.53M1.47,0H3M1,-0.69L1.47,0L1,0.69L0.53,0Z'][datum.index]"},
                    "fillOpacity": {"signal": "[1,1,0,0][datum.index]"},
                    "stroke": {"signal": "['transparent','transparent','#0a8585','#0a8585'][datum.index]"}
                  }},
                  "labels": {"update": {
                    "dx": {"signal": "[17,0,0,0][datum.index]"},
                    "fontStyle": {"signal": "datum.index < 2 ? 'italic' : 'normal'"}
                  }}
                }}}
          }
        },
        {
          "transform": [{"filter": "datum.k == 's'"}],
          "mark": {"type": "line", "clip": true, "strokeWidth": 1.3},
          "encoding": {
            "x": {"field": "x", "type": "quantitative", "scale": {"domain": [0, 0.65], "nice": false, "zero": false},
              "axis": {"orient": "top", "values": [0,0.05,0.1,0.15,0.2,0.25,0.3,0.35,0.4,0.45,0.5,0.55,0.6], "labels": false, "title": null}},
            "y": {"field": "c", "type": "quantitative", "scale": {"domain": [0, 1.5], "nice": false, "zero": false},
              "axis": {"orient": "left", "values": [0,0.2,0.4,0.6,0.8,1,1.2,1.4], "labels": false, "title": null}},
            "color": {"value": "#1010cc"}
          }
        },
        {
          "transform": [{"filter": "datum.k == 'n'"}],
          "mark": {"type": "line", "clip": true, "strokeWidth": 1.2, "strokeDash": [6, 4]},
          "encoding": {"y": {"field": "c", "type": "quantitative", "axis": null}, "color": {"value": "#26a9e0"}}
        },
        {
          "data": {"values": [{"x": 0.138}]},
          "mark": {"type": "rule", "strokeWidth": 1.2, "strokeDash": [5, 2, 1.5, 2]},
          "encoding": {"color": {"value": "#c2a30a"}}
        },
        {
          "transform": [{"filter": "isValid(datum.y)"}],
          "mark": {"type": "rule", "strokeWidth": 1.1},
          "encoding": {"y": {"field": "lo", "type": "quantitative", "axis": null}, "y2": {"field": "hi"}}
        },
        {
          "transform": [{"filter": "isValid(datum.y)"}],
          "mark": {"type": "tick", "orient": "horizontal", "size": 8, "thickness": 1.1, "opacity": 1},
          "encoding": {"y": {"field": "lo", "type": "quantitative", "axis": null}}
        },
        {
          "transform": [{"filter": "isValid(datum.y)"}],
          "mark": {"type": "tick", "orient": "horizontal", "size": 8, "thickness": 1.1, "opacity": 1},
          "encoding": {"y": {"field": "hi", "type": "quantitative", "axis": null}}
        },
        {
          "transform": [{"filter": "isValid(datum.y)"}],
          "mark": {"type": "point", "filled": false, "size": 100, "strokeWidth": 1.1, "opacity": 1},
          "encoding": {
            "y": {"field": "y", "type": "quantitative", "axis": null},
            "shape": {"field": "s", "type": "nominal", "scale": {"domain": ["Liu-2012", "HSC-2021"], "range": ["circle", "M0,-1.1L0.75,0L0,1.1L-0.75,0Z"]}, "legend": null}
          }
        }
      ],
      "resolve": {"axis": {"x": "independent", "y": "independent"}}
    },
    {
      "width": 332, "height": 176,
      "data": {"name": "p3"},
      "encoding": {
        "x": {"field": "x", "type": "quantitative", "scale": {"domain": [0, 0.65], "nice": false, "zero": false}, "axis": null},
        "color": {"field": "s", "type": "nominal", "scale": {"domain": ["D*\u209bK\u0304", "D\u209bK\u0304", "Liu-2012"], "range": ["rgba(0,0,230,0.33)", "rgba(50,200,90,0.25)", "#0a8585"]}, "legend": null}
      },
      "layer": [
        {
          "transform": [{"filter": "isValid(datum.c)"}],
          "mark": {"type": "area", "clip": true},
          "encoding": {
            "x": {"field": "x", "type": "quantitative", "scale": {"domain": [0, 0.65], "nice": false, "zero": false},
              "axis": {"orient": "bottom", "values": [0,0.05,0.1,0.15,0.2,0.25,0.3,0.35,0.4,0.45,0.5,0.55,0.6], "labelExpr": "abs(datum.value*10-round(datum.value*10))<0.001 ? format(datum.value,'~g') : ''", "labelPadding": 11, "title": "Mπ  [GeV]", "titlePadding": 9}},
            "y": {"field": "lo", "type": "quantitative", "scale": {"domain": [-0.3, -0.1], "nice": false, "zero": false},
              "axis": {"orient": "left", "values": [-0.3,-0.275,-0.25,-0.225,-0.2,-0.175,-0.15,-0.125,-0.1], "labelExpr": "abs(datum.value/0.05-round(datum.value/0.05))<0.001 ? format(datum.value,'~g') : ''", "labelPadding": 14, "title": "a⁽²,½⁾ D⁽*⁾\u209bK\u0304  [fm]", "titleX": -65, "titleY": 88, "titleAngle": -90, "titleAlign": "center", "titleBaseline": "middle"}},
            "y2": {"field": "hi"},
            "color": {"field": "s", "type": "nominal",
              "scale": {"domain": ["D*\u209bK\u0304", "D\u209bK\u0304", "Liu-2012"], "range": ["rgba(0,0,230,0.33)", "rgba(50,200,90,0.25)", "#0a8585"]},
              "legend": {"orient": "none", "legendX": 74, "legendY": 9, "columns": 3, "direction": "horizontal", "title": null,
                "encode": {
                  "symbols": {"update": {
                    "shape": {"signal": "['M-1,-0.7H3V0.7H-1Z','M-1,-0.7H3V0.7H-1Z','M-1,0H0.44M1.56,0H3M1.56,0A0.56,0.56 0 1 1 0.44,0A0.56,0.56 0 1 1 1.56,0'][datum.index]"},
                    "fillOpacity": {"signal": "[1,1,0][datum.index]"},
                    "stroke": {"signal": "['transparent','transparent','#0a8585'][datum.index]"}
                  }},
                  "labels": {"update": {
                    "fontStyle": {"signal": "datum.index < 2 ? 'italic' : 'normal'"}
                  }}
                }}}
          }
        },
        {
          "transform": [{"filter": "datum.k == 's'"}],
          "mark": {"type": "line", "clip": true, "strokeWidth": 1.3},
          "encoding": {
            "x": {"field": "x", "type": "quantitative", "scale": {"domain": [0, 0.65], "nice": false, "zero": false},
              "axis": {"orient": "top", "values": [0,0.05,0.1,0.15,0.2,0.25,0.3,0.35,0.4,0.45,0.5,0.55,0.6], "labels": false, "title": null}},
            "y": {"field": "c", "type": "quantitative", "scale": {"domain": [-0.3, -0.1], "nice": false, "zero": false},
              "axis": {"orient": "right", "values": [-0.3,-0.275,-0.25,-0.225,-0.2,-0.175,-0.15,-0.125,-0.1], "labels": false, "title": null}},
            "color": {"value": "#1010cc"}
          }
        },
        {
          "transform": [{"filter": "datum.k == 'n'"}],
          "mark": {"type": "line", "clip": true, "strokeWidth": 1.2, "strokeDash": [6, 4]},
          "encoding": {"y": {"field": "c", "type": "quantitative", "axis": null}, "color": {"value": "#26a9e0"}}
        },
        {
          "data": {"values": [{"x": 0.138}]},
          "mark": {"type": "rule", "strokeWidth": 1.2, "strokeDash": [5, 2, 1.5, 2]},
          "encoding": {"color": {"value": "#c2a30a"}}
        },
        {
          "transform": [{"filter": "isValid(datum.y)"}],
          "mark": {"type": "rule", "strokeWidth": 1.1},
          "encoding": {"y": {"field": "lo", "type": "quantitative", "axis": null}, "y2": {"field": "hi"}}
        },
        {
          "transform": [{"filter": "isValid(datum.y)"}],
          "mark": {"type": "tick", "orient": "horizontal", "size": 8, "thickness": 1.1, "opacity": 1},
          "encoding": {"y": {"field": "lo", "type": "quantitative", "axis": null}}
        },
        {
          "transform": [{"filter": "isValid(datum.y)"}],
          "mark": {"type": "tick", "orient": "horizontal", "size": 8, "thickness": 1.1, "opacity": 1},
          "encoding": {"y": {"field": "hi", "type": "quantitative", "axis": null}}
        },
        {
          "transform": [{"filter": "isValid(datum.y)"}],
          "mark": {"type": "point", "filled": false, "size": 100, "strokeWidth": 1.1, "opacity": 1, "shape": "circle"},
          "encoding": {"y": {"field": "y", "type": "quantitative", "axis": null}}
        }
      ],
      "resolve": {"axis": {"x": "independent", "y": "independent"}}
    },
    {
      "width": 332, "height": 176,
      "data": {"name": "p4"},
      "encoding": {
        "x": {"field": "x", "type": "quantitative", "scale": {"domain": [0, 0.65], "nice": false, "zero": false}, "axis": null},
        "color": {"field": "s", "type": "nominal", "scale": {"domain": ["D*π", "Dπ", "Liu-2012", "HSC-2016"], "range": ["rgba(0,0,230,0.33)", "rgba(50,200,90,0.25)", "#0a8585", "#0a8585"]}, "legend": null}
      },
      "layer": [
        {
          "transform": [{"filter": "isValid(datum.c)"}],
          "mark": {"type": "area", "clip": true},
          "encoding": {
            "x": {"field": "x", "type": "quantitative", "scale": {"domain": [0, 0.65], "nice": false, "zero": false},
              "axis": {"orient": "bottom", "values": [0,0.05,0.1,0.15,0.2,0.25,0.3,0.35,0.4,0.45,0.5,0.55,0.6], "labelExpr": "abs(datum.value*10-round(datum.value*10))<0.001 ? format(datum.value,'~g') : ''", "labelPadding": 11, "title": "Mπ  [GeV]", "titlePadding": 9}},
            "y": {"field": "lo", "type": "quantitative", "scale": {"domain": [-0.3, 0], "nice": false, "zero": false},
              "axis": {"orient": "right", "values": [-0.3,-0.25,-0.2,-0.15,-0.1,-0.05,0], "labelExpr": "abs(datum.value*10-round(datum.value*10))<0.001 ? format(datum.value,'~g') : ''", "labelPadding": 10, "title": "a⁽⁰,³⁄₂⁾ D⁽*⁾π→D⁽*⁾π  [fm]", "titleX": 49, "titleY": 88, "titleAngle": 90, "titleAlign": "center", "titleBaseline": "middle"}},
            "y2": {"field": "hi"},
            "color": {"field": "s", "type": "nominal",
              "scale": {"domain": ["D*π", "Dπ", "Liu-2012", "HSC-2016"], "range": ["rgba(0,0,230,0.33)", "rgba(50,200,90,0.25)", "#0a8585", "#0a8585"]},
              "legend": {"orient": "none", "legendX": 54, "legendY": 8, "columns": 3, "direction": "horizontal", "title": null,
                "encode": {
                  "symbols": {"update": {
                    "shape": {"signal": "['M-1,-0.7H3V0.7H-1Z','M-1,-0.7H3V0.7H-1Z','M-1,0H0.44M1.56,0H3M1.56,0A0.56,0.56 0 1 1 0.44,0A0.56,0.56 0 1 1 1.56,0','M-1,0H0.6M1.4,0H3M1,-0.69L1.6,0.35L0.4,0.35Z'][datum.index]"},
                    "fillOpacity": {"signal": "[1,1,0,0][datum.index]"},
                    "stroke": {"signal": "['transparent','transparent','#0a8585','#0a8585'][datum.index]"}
                  }},
                  "labels": {"update": {
                    "dx": {"signal": "[18,0,0,0][datum.index]"},
                    "fontStyle": {"signal": "datum.index < 2 ? 'italic' : 'normal'"}
                  }}
                }}}
          }
        },
        {
          "transform": [{"filter": "datum.k == 's'"}],
          "mark": {"type": "line", "clip": true, "strokeWidth": 1.3},
          "encoding": {
            "x": {"field": "x", "type": "quantitative", "scale": {"domain": [0, 0.65], "nice": false, "zero": false},
              "axis": {"orient": "top", "values": [0,0.05,0.1,0.15,0.2,0.25,0.3,0.35,0.4,0.45,0.5,0.55,0.6], "labels": false, "title": null}},
            "y": {"field": "c", "type": "quantitative", "scale": {"domain": [-0.3, 0], "nice": false, "zero": false},
              "axis": {"orient": "left", "values": [-0.3,-0.25,-0.2,-0.15,-0.1,-0.05,0], "labels": false, "title": null}},
            "color": {"value": "#1010cc"}
          }
        },
        {
          "transform": [{"filter": "datum.k == 'n'"}],
          "mark": {"type": "line", "clip": true, "strokeWidth": 1.2, "strokeDash": [6, 4]},
          "encoding": {"y": {"field": "c", "type": "quantitative", "axis": null}, "color": {"value": "#26a9e0"}}
        },
        {
          "data": {"values": [{"x": 0.138}]},
          "mark": {"type": "rule", "strokeWidth": 1.2, "strokeDash": [5, 2, 1.5, 2]},
          "encoding": {"color": {"value": "#c2a30a"}}
        },
        {
          "transform": [{"filter": "isValid(datum.y)"}],
          "mark": {"type": "rule", "strokeWidth": 1.1},
          "encoding": {"y": {"field": "lo", "type": "quantitative", "axis": null}, "y2": {"field": "hi"}}
        },
        {
          "transform": [{"filter": "isValid(datum.y)"}],
          "mark": {"type": "tick", "orient": "horizontal", "size": 8, "thickness": 1.1, "opacity": 1},
          "encoding": {"y": {"field": "lo", "type": "quantitative", "axis": null}}
        },
        {
          "transform": [{"filter": "isValid(datum.y)"}],
          "mark": {"type": "tick", "orient": "horizontal", "size": 8, "thickness": 1.1, "opacity": 1},
          "encoding": {"y": {"field": "hi", "type": "quantitative", "axis": null}}
        },
        {
          "transform": [{"filter": "isValid(datum.y)"}],
          "mark": {"type": "point", "filled": false, "size": 100, "strokeWidth": 1.1, "opacity": 1},
          "encoding": {
            "y": {"field": "y", "type": "quantitative", "axis": null},
            "shape": {"field": "s", "type": "nominal", "scale": {"domain": ["Liu-2012", "HSC-2016"], "range": ["circle", "M0,-1.05L0.95,0.6L-0.95,0.6Z"]}, "legend": null}
          }
        }
      ],
      "resolve": {"axis": {"x": "independent", "y": "independent"}}
    },
    {
      "width": 332, "height": 176,
      "data": {"name": "p5"},
      "encoding": {
        "x": {"field": "x", "type": "quantitative", "scale": {"domain": [0, 0.65], "nice": false, "zero": false}, "axis": null},
        "color": {"field": "s", "type": "nominal", "scale": {"domain": ["D*\u209bπ", "D\u209bπ", "Liu-2012"], "range": ["rgba(0,0,230,0.33)", "rgba(50,200,90,0.25)", "#0a8585"]}, "legend": null}
      },
      "layer": [
        {
          "transform": [{"filter": "isValid(datum.c)"}],
          "mark": {"type": "area", "clip": true},
          "encoding": {
            "x": {"field": "x", "type": "quantitative", "scale": {"domain": [0, 0.65], "nice": false, "zero": false},
              "axis": {"orient": "bottom", "values": [0,0.05,0.1,0.15,0.2,0.25,0.3,0.35,0.4,0.45,0.5,0.55,0.6], "labelExpr": "abs(datum.value*10-round(datum.value*10))<0.001 ? format(datum.value,'~g') : ''", "labelPadding": 11, "title": "Mπ  [GeV]", "titlePadding": 9}},
            "y": {"field": "lo", "type": "quantitative", "scale": {"domain": [-0.05, 0.05], "nice": false, "zero": false},
              "axis": {"orient": "left", "values": [-0.04,-0.03,-0.02,-0.01,0,0.01,0.02,0.03,0.04], "labelExpr": "abs(datum.value/0.02-round(datum.value/0.02))<0.001 ? format(datum.value,'~g') : ''", "labelPadding": 14, "title": "a⁽¹,¹⁾ D⁽*⁾\u209bπ  [fm]", "titleX": -65, "titleY": 88, "titleAngle": -90, "titleAlign": "center", "titleBaseline": "middle"}},
            "y2": {"field": "hi"},
            "color": {"field": "s", "type": "nominal",
              "scale": {"domain": ["D*\u209bπ", "D\u209bπ", "Liu-2012"], "range": ["rgba(0,0,230,0.33)", "rgba(50,200,90,0.25)", "#0a8585"]},
              "legend": {"orient": "none", "legendX": 15, "legendY": 10, "columns": 3, "direction": "horizontal", "title": null,
                "encode": {
                  "symbols": {"update": {
                    "shape": {"signal": "['M-1,-0.7H3V0.7H-1Z','M-1,-0.7H3V0.7H-1Z','M-1,0H0.44M1.56,0H3M1.56,0A0.56,0.56 0 1 1 0.44,0A0.56,0.56 0 1 1 1.56,0'][datum.index]"},
                    "fillOpacity": {"signal": "[1,1,0][datum.index]"},
                    "stroke": {"signal": "['transparent','transparent','#0a8585'][datum.index]"}
                  }},
                  "labels": {"update": {
                    "fontStyle": {"signal": "datum.index < 2 ? 'italic' : 'normal'"}
                  }}
                }}}
          }
        },
        {
          "transform": [{"filter": "datum.k == 's'"}],
          "mark": {"type": "line", "clip": true, "strokeWidth": 1.3},
          "encoding": {
            "x": {"field": "x", "type": "quantitative", "scale": {"domain": [0, 0.65], "nice": false, "zero": false},
              "axis": {"orient": "top", "values": [0,0.05,0.1,0.15,0.2,0.25,0.3,0.35,0.4,0.45,0.5,0.55,0.6], "labels": false, "title": null}},
            "y": {"field": "c", "type": "quantitative", "scale": {"domain": [-0.05, 0.05], "nice": false, "zero": false},
              "axis": {"orient": "right", "values": [-0.04,-0.03,-0.02,-0.01,0,0.01,0.02,0.03,0.04], "labels": false, "title": null}},
            "color": {"value": "#1010cc"}
          }
        },
        {
          "transform": [{"filter": "datum.k == 'n'"}],
          "mark": {"type": "line", "clip": true, "strokeWidth": 1.2, "strokeDash": [6, 4]},
          "encoding": {"y": {"field": "c", "type": "quantitative", "axis": null}, "color": {"value": "#26a9e0"}}
        },
        {
          "data": {"values": [{"x": 0.138}]},
          "mark": {"type": "rule", "strokeWidth": 1.2, "strokeDash": [5, 2, 1.5, 2]},
          "encoding": {"color": {"value": "#c2a30a"}}
        },
        {
          "transform": [{"filter": "isValid(datum.y)"}],
          "mark": {"type": "rule", "strokeWidth": 1.1},
          "encoding": {"y": {"field": "lo", "type": "quantitative", "axis": null}, "y2": {"field": "hi"}}
        },
        {
          "transform": [{"filter": "isValid(datum.y)"}],
          "mark": {"type": "tick", "orient": "horizontal", "size": 8, "thickness": 1.1, "opacity": 1},
          "encoding": {"y": {"field": "lo", "type": "quantitative", "axis": null}}
        },
        {
          "transform": [{"filter": "isValid(datum.y)"}],
          "mark": {"type": "tick", "orient": "horizontal", "size": 8, "thickness": 1.1, "opacity": 1},
          "encoding": {"y": {"field": "hi", "type": "quantitative", "axis": null}}
        },
        {
          "transform": [{"filter": "isValid(datum.y)"}],
          "mark": {"type": "point", "filled": false, "size": 100, "strokeWidth": 1.1, "opacity": 1, "shape": "circle"},
          "encoding": {"y": {"field": "y", "type": "quantitative", "axis": null}}
        }
      ],
      "resolve": {"axis": {"x": "independent", "y": "independent"}}
    },
    {
      "width": 332, "height": 176,
      "data": {"name": "p6"},
      "encoding": {
        "x": {"field": "x", "type": "quantitative", "scale": {"domain": [0, 0.65], "nice": false, "zero": false}, "axis": null},
        "color": {"field": "s", "type": "nominal", "scale": {"domain": ["D*K", "DK", "RQCD-2017", "Mohler-I", "HSC-2021"], "range": ["rgba(0,0,230,0.33)", "rgba(50,200,90,0.25)", "#0a8585", "#0a8585", "#0a8585"]}, "legend": null}
      },
      "layer": [
        {
          "transform": [{"filter": "isValid(datum.c)"}],
          "mark": {"type": "area", "clip": true},
          "encoding": {
            "x": {"field": "x", "type": "quantitative", "scale": {"domain": [0, 0.65], "nice": false, "zero": false},
              "axis": {"orient": "bottom", "values": [0,0.05,0.1,0.15,0.2,0.25,0.3,0.35,0.4,0.45,0.5,0.55,0.6], "labelExpr": "abs(datum.value*10-round(datum.value*10))<0.001 ? format(datum.value,'~g') : ''", "labelPadding": 11, "title": "Mπ  [GeV]", "titlePadding": 9}},
            "y": {"field": "lo", "type": "quantitative", "scale": {"domain": [-1.6, 0], "nice": false, "zero": false},
              "axis": {"orient": "right", "values": [-1.6,-1.4,-1.2,-1,-0.8,-0.6,-0.4,-0.2,0], "labelExpr": "abs(datum.value/0.4-round(datum.value/0.4))<0.001 ? format(datum.value,'~g') : ''", "labelPadding": 10, "title": "a⁽¹,⁰⁾ D⁽*⁾K  [fm]", "titleX": 51, "titleY": 88, "titleAngle": 90, "titleAlign": "center", "titleBaseline": "middle"}},
            "y2": {"field": "hi"},
            "color": {"field": "s", "type": "nominal",
              "scale": {"domain": ["D*K", "DK", "RQCD-2017", "Mohler-I", "HSC-2021"], "range": ["rgba(0,0,230,0.33)", "rgba(50,200,90,0.25)", "#0a8585", "#0a8585", "#0a8585"]},
              "legend": {"orient": "none", "legendX": 101, "legendY": 8, "columns": 2, "direction": "horizontal", "title": null,
                "encode": {
                  "symbols": {"update": {
                    "shape": {"signal": "['M-1,-0.7H3V0.7H-1Z','M-1,-0.7H3V0.7H-1Z','M-1,0H0.45M1.55,0H3M1,-0.62L1.59,-0.19L1.36,0.5L0.64,0.5L0.41,-0.19Z','M-1,0H0.6M1.4,0H3M1,-0.69L1.6,0.35L0.4,0.35Z','M-1,0H0.53M1.47,0H3M1,-0.69L1.47,0L1,0.69L0.53,0Z'][datum.index]"},
                    "fillOpacity": {"signal": "[1,1,0,0,0][datum.index]"},
                    "stroke": {"signal": "['transparent','transparent','#0a8585','#0a8585','#0a8585'][datum.index]"}
                  }},
                  "labels": {"update": {
                    "dx": {"signal": "[24,17,0,0,6][datum.index]"},
                    "fontStyle": {"signal": "datum.index < 2 ? 'italic' : 'normal'"}
                  }}
                }}}
          }
        },
        {
          "transform": [{"filter": "datum.k == 's'"}],
          "mark": {"type": "line", "clip": true, "strokeWidth": 1.3},
          "encoding": {
            "x": {"field": "x", "type": "quantitative", "scale": {"domain": [0, 0.65], "nice": false, "zero": false},
              "axis": {"orient": "top", "values": [0,0.05,0.1,0.15,0.2,0.25,0.3,0.35,0.4,0.45,0.5,0.55,0.6], "labels": false, "title": null}},
            "y": {"field": "c", "type": "quantitative", "scale": {"domain": [-1.6, 0], "nice": false, "zero": false},
              "axis": {"orient": "left", "values": [-1.6,-1.4,-1.2,-1,-0.8,-0.6,-0.4,-0.2,0], "labels": false, "title": null}},
            "color": {"value": "#1010cc"}
          }
        },
        {
          "transform": [{"filter": "datum.k == 'n'"}],
          "mark": {"type": "line", "clip": true, "strokeWidth": 1.2, "strokeDash": [6, 4]},
          "encoding": {"y": {"field": "c", "type": "quantitative", "axis": null}, "color": {"value": "#26a9e0"}}
        },
        {
          "data": {"values": [{"x": 0.138}]},
          "mark": {"type": "rule", "strokeWidth": 1.2, "strokeDash": [4, 3]},
          "encoding": {"color": {"value": "#c2a30a"}}
        },
        {
          "transform": [{"filter": "isValid(datum.y)"}],
          "mark": {"type": "rule", "strokeWidth": 1.1},
          "encoding": {"y": {"field": "lo", "type": "quantitative", "axis": null}, "y2": {"field": "hi"}}
        },
        {
          "transform": [{"filter": "isValid(datum.y)"}],
          "mark": {"type": "tick", "orient": "horizontal", "size": 8, "thickness": 1.1, "opacity": 1},
          "encoding": {"y": {"field": "lo", "type": "quantitative", "axis": null}}
        },
        {
          "transform": [{"filter": "isValid(datum.y)"}],
          "mark": {"type": "tick", "orient": "horizontal", "size": 8, "thickness": 1.1, "opacity": 1},
          "encoding": {"y": {"field": "hi", "type": "quantitative", "axis": null}}
        },
        {
          "transform": [{"filter": "isValid(datum.y)"}],
          "mark": {"type": "point", "filled": false, "size": 100, "strokeWidth": 1.1, "opacity": 1},
          "encoding": {
            "y": {"field": "y", "type": "quantitative", "axis": null},
            "shape": {"field": "s", "type": "nominal", "scale": {"domain": ["RQCD-2017", "Mohler-I", "HSC-2021"], "range": ["M0,-1L0.95,-0.31L0.59,0.81L-0.59,0.81L-0.95,-0.31Z", "M0,-1.05L0.95,0.6L-0.95,0.6Z", "M0,-1.1L0.75,0L0,1.1L-0.75,0Z"]}, "legend": null}
          }
        }
      ],
      "resolve": {"axis": {"x": "independent", "y": "independent"}}
    },
    {
      "bounds": "flush",
      "spacing": 0,
      "hconcat": [
        {
          "width": 207, "height": 176,
          "view": {"stroke": null},
          "data": {"values": [{"x": 0}]},
          "mark": {"type": "point", "opacity": 0},
          "encoding": {}
        },
        {
          "width": 332, "height": 176,
          "data": {"name": "p7"},
          "encoding": {
            "x": {"field": "x", "type": "quantitative", "scale": {"domain": [0, 0.65], "nice": false, "zero": false}, "axis": null},
            "color": {"field": "s", "type": "nominal", "scale": {"domain": ["D*π", "Dπ", "Mohler-II", "CLQCD-2025", "Mohler-II (2)", "HSC-2025"], "range": ["rgba(0,0,230,0.33)", "rgba(50,200,90,0.25)", "#0a8585", "#0a8585", "#0a8585", "#e6007e"]}, "legend": null}
          },
          "layer": [
            {
              "transform": [{"filter": "isValid(datum.c)"}],
              "mark": {"type": "area", "clip": true},
              "encoding": {
                "x": {"field": "x", "type": "quantitative", "scale": {"domain": [0, 0.65], "nice": false, "zero": false},
                  "axis": {"orient": "bottom", "values": [0,0.05,0.1,0.15,0.2,0.25,0.3,0.35,0.4,0.45,0.5,0.55,0.6], "labelExpr": "abs(datum.value*10-round(datum.value*10))<0.001 ? format(datum.value,'~g') : ''", "labelPadding": 11, "title": "Mπ  [GeV]", "titlePadding": 9}},
                "y": {"field": "lo", "type": "quantitative", "scale": {"domain": [-3.5, 5], "nice": false, "zero": false},
                  "axis": {"orient": "left", "values": [-3,-2,-1,0,1,2,3,4], "labelExpr": "abs(datum.value/2-round(datum.value/2))<0.001 ? format(datum.value,'~g') : ''", "labelPadding": 14, "title": "a⁽⁰,½⁾ D⁽*⁾π  [fm]", "titleX": -50, "titleY": 88, "titleAngle": -90, "titleAlign": "center", "titleBaseline": "middle"}},
                "y2": {"field": "hi"},
                "detail": {"field": "b"},
                "color": {"field": "s", "type": "nominal",
                  "scale": {"domain": ["D*π", "Dπ", "Mohler-II", "CLQCD-2025", "Mohler-II (2)", "HSC-2025"], "range": ["rgba(0,0,230,0.33)", "rgba(50,200,90,0.25)", "#0a8585", "#0a8585", "#0a8585", "#e6007e"]},
                  "legend": {"orient": "none", "legendX": 401, "legendY": 7, "columns": 1, "direction": "vertical", "title": null,
                    "labelExpr": "replace(datum.label, ' (2)', '')",
                    "encode": {
                      "symbols": {"update": {
                        "shape": {"signal": "['M-1,-0.7H3V0.7H-1Z','M-1,-0.7H3V0.7H-1Z','M-1,0H0.53M1.47,0H3M1,-0.69L1.47,0L1,0.69L0.53,0Z','M-1,0H0.47M1.53,0H3M0.47,-0.53H1.53V0.53H0.47Z','M-1,0H0.53M1.47,0H3M1,-0.69L1.47,0L1,0.69L0.53,0Z','M-1,0H0.6M1.4,0H3M1,-0.69L1.6,0.35L0.4,0.35Z'][datum.index]"},
                        "fillOpacity": {"signal": "[1,1,0,0,1,1][datum.index]"},
                        "stroke": {"signal": "['transparent','transparent','#0a8585','#0a8585','#0a8585','#e6007e'][datum.index]"}
                      }},
                      "labels": {"update": {
                        "dx": {"signal": "[30,33,13,0,13,11][datum.index]"},
                        "fontStyle": {"signal": "datum.index < 2 ? 'italic' : 'normal'"}
                      }}
                    }}}
              }
            },
            {
              "transform": [{"filter": "datum.k == 's'"}],
              "mark": {"type": "line", "clip": true, "strokeWidth": 1.3},
              "encoding": {
                "x": {"field": "x", "type": "quantitative", "scale": {"domain": [0, 0.65], "nice": false, "zero": false},
                  "axis": {"orient": "top", "values": [0,0.05,0.1,0.15,0.2,0.25,0.3,0.35,0.4,0.45,0.5,0.55,0.6], "labels": false, "title": null}},
                "y": {"field": "c", "type": "quantitative", "scale": {"domain": [-3.5, 5], "nice": false, "zero": false},
                  "axis": {"orient": "right", "values": [-3,-2,-1,0,1,2,3,4], "labels": false, "title": null}},
                "detail": {"field": "b"},
                "color": {"value": "#1010cc"}
              }
            },
            {
              "transform": [{"filter": "datum.k == 'n'"}],
              "mark": {"type": "line", "clip": true, "strokeWidth": 1.2, "strokeDash": [6, 4]},
              "encoding": {"y": {"field": "c", "type": "quantitative", "axis": null}, "detail": {"field": "b"}, "color": {"value": "#26a9e0"}}
            },
            {
              "data": {"values": [{"x": 0.138}]},
              "mark": {"type": "rule", "strokeWidth": 1.2, "strokeDash": [4, 3]},
              "encoding": {"color": {"value": "#c2a30a"}}
            },
            {
              "transform": [{"filter": "isValid(datum.y)"}],
              "mark": {"type": "rule", "strokeWidth": 1.1, "clip": true},
              "encoding": {"y": {"field": "lo", "type": "quantitative", "axis": null}, "y2": {"field": "hi"}}
            },
            {
              "transform": [{"filter": "isValid(datum.y)"}],
              "mark": {"type": "tick", "orient": "horizontal", "size": 8, "thickness": 1.1, "opacity": 1, "clip": true},
              "encoding": {"y": {"field": "lo", "type": "quantitative", "axis": null}}
            },
            {
              "transform": [{"filter": "isValid(datum.y)"}],
              "mark": {"type": "tick", "orient": "horizontal", "size": 8, "thickness": 1.1, "opacity": 1, "clip": true},
              "encoding": {"y": {"field": "hi", "type": "quantitative", "axis": null}}
            },
            {
              "transform": [{"filter": "datum.s == 'CLQCD-2025' || datum.s == 'Mohler-II'"}],
              "mark": {"type": "point", "filled": false, "size": 100, "strokeWidth": 1.1, "opacity": 1},
              "encoding": {
                "y": {"field": "y", "type": "quantitative", "axis": null},
                "shape": {"field": "s", "type": "nominal", "scale": {"domain": ["Mohler-II", "CLQCD-2025", "Mohler-II (2)", "HSC-2025"], "range": ["M0,-1.1L0.75,0L0,1.1L-0.75,0Z", "M-0.85,-0.85H0.85V0.85H-0.85Z", "M0,-1.1L0.75,0L0,1.1L-0.75,0Z", "M0,-1.05L0.95,0.6L-0.95,0.6Z"]}, "legend": null}
              }
            },
            {
              "transform": [{"filter": "datum.s == 'Mohler-II (2)' || datum.s == 'HSC-2025'"}],
              "mark": {"type": "point", "filled": true, "size": 120, "opacity": 1},
              "encoding": {
                "y": {"field": "y", "type": "quantitative", "axis": null},
                "shape": {"field": "s", "type": "nominal", "scale": {"domain": ["Mohler-II", "CLQCD-2025", "Mohler-II (2)", "HSC-2025"], "range": ["M0,-1.1L0.75,0L0,1.1L-0.75,0Z", "M-0.85,-0.85H0.85V0.85H-0.85Z", "M0,-1.1L0.75,0L0,1.1L-0.75,0Z", "M0,-1.05L0.95,0.6L-0.95,0.6Z"]}, "legend": null}
              }
            }
          ],
          "resolve": {"axis": {"x": "independent", "y": "independent"}}
        }
      ]
    }
  ]
}
